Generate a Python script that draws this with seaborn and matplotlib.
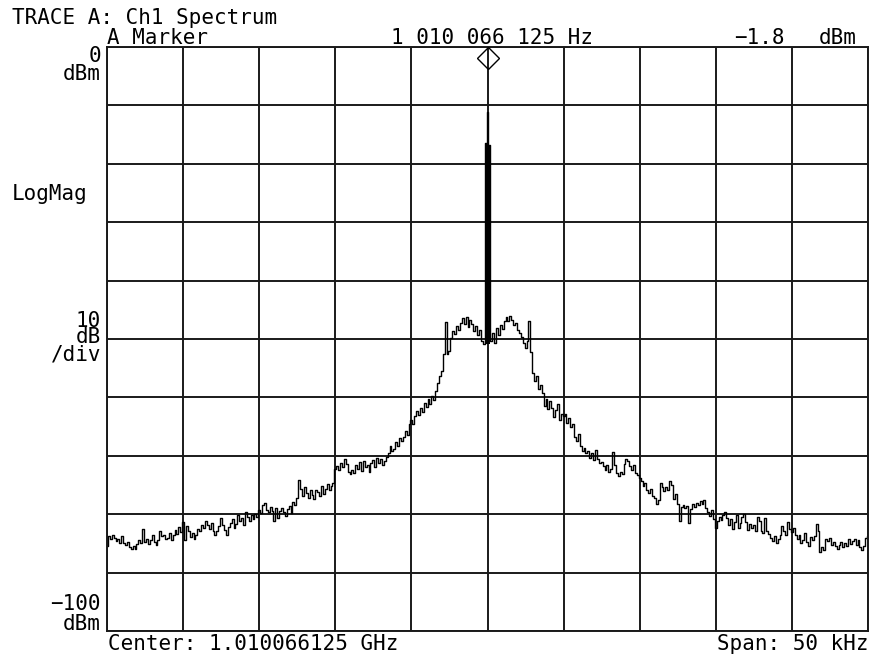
import matplotlib
matplotlib.use("Agg")
import matplotlib.pyplot as plt
import numpy as np
import pandas as pd
import seaborn as sns

# Instrument settings
center_label = "Center: 1.010066125 GHz"
span_label = "Span: 50 kHz"
span_khz = 50
marker_offset_khz = 0.0
marker_dbm = -1.8

# Trace A, 401 sweep points, dBm
trace_dbm = [
    -85.5, -83.8, -84.2, -83.6, -84.0, -84.6, -84.3, -85.0, -83.7, -84.9, -85.2, -84.8, -85.6, -86.0, -85.4, -85.9, -85.1, -84.5, -84.9, -82.6,
    -84.8, -84.2, -85.1, -84.4, -83.6, -84.7, -85.3, -84.5, -82.9, -83.8, -83.5, -84.2, -84.0, -83.2, -84.4, -83.6, -82.7, -83.4, -82.2, -83.0,
    -81.3, -84.4, -82.0, -82.8, -83.9, -83.2, -84.2, -83.6, -82.5, -82.9, -81.8, -82.4, -81.2, -81.9, -82.6, -81.5, -82.8, -83.5, -82.9, -82.1,
    -80.6, -81.9, -82.7, -83.6, -82.2, -81.5, -80.8, -82.4, -81.7, -80.2, -81.1, -80.6, -81.9, -79.6, -80.4, -81.2, -80.1, -80.8, -79.9, -80.5,
    -79.3, -79.8, -78.4, -78.0, -79.2, -79.6, -78.8, -79.5, -81.2, -79.0, -80.6, -79.4, -78.9, -79.7, -80.3, -79.1, -78.6, -79.8, -77.9, -78.4,
    -77.2, -74.1, -75.6, -76.8, -75.3, -76.4, -77.3, -75.9, -76.7, -77.4, -75.8, -76.2, -76.9, -75.1, -76.5, -75.6, -74.8, -75.9, -75.2, -74.6,
    -72.3, -71.8, -72.5, -71.2, -71.9, -70.6, -71.4, -72.7, -73.1, -72.4, -72.9, -71.5, -72.2, -71.0, -72.6, -70.9, -72.0, -71.6, -72.8, -71.3,
    -70.8, -71.9, -70.4, -71.2, -70.6, -71.5, -70.9, -70.2, -69.6, -68.4, -69.2, -68.8, -67.6, -68.3, -66.9, -67.5, -66.8, -65.8, -66.4, -64.5,
    -63.8, -64.6, -63.2, -62.4, -63.0, -61.8, -62.5, -60.9, -61.6, -60.3, -61.2, -59.8, -60.4, -58.9, -57.6, -56.3, -55.4, -52.6, -47.1, -52.5,
    -52.0, -49.8, -48.6, -49.2, -47.8, -48.4, -47.2, -46.4, -47.5, -46.2, -47.9, -46.8, -47.4, -48.6, -47.7, -49.3, -48.5, -50.4, -50.8, -16.5,
    -11.2, -16.8, -50.3, -49.0, -50.6, -48.2, -49.4, -47.6, -48.3, -46.9, -46.2, -47.0, -46.1, -46.8, -47.6, -47.2, -48.4, -48.9, -49.6, -50.7,
    -51.5, -50.4, -47.0, -52.2, -55.8, -57.2, -56.4, -58.6, -57.9, -59.3, -61.4, -60.2, -62.0, -60.6, -61.8, -63.4, -62.2, -61.2, -63.8, -62.9,
    -63.2, -62.8, -64.3, -63.5, -65.1, -64.6, -66.8, -67.5, -66.3, -68.4, -69.2, -68.7, -69.6, -69.1, -70.3, -69.5, -70.8, -69.0, -70.6, -71.3,
    -71.0, -71.8, -72.4, -71.5, -72.8, -72.2, -69.4, -71.6, -72.9, -73.4, -72.7, -73.1, -71.4, -70.6, -70.9, -71.8, -72.5, -71.6, -72.9, -73.3,
    -73.8, -74.4, -75.1, -74.7, -75.9, -76.4, -75.6, -76.8, -77.3, -78.2, -77.6, -74.6, -75.3, -76.1, -75.4, -75.9, -74.3, -75.0, -77.4, -76.6,
    -78.3, -81.2, -78.8, -78.4, -79.0, -78.6, -81.5, -79.1, -78.2, -78.7, -78.0, -78.5, -77.8, -78.3, -77.6, -78.9, -79.6, -80.3, -79.2, -80.8,
    -82.4, -81.2, -80.4, -81.0, -80.2, -79.6, -80.6, -81.8, -80.9, -82.6, -81.4, -80.1, -82.3, -81.5, -80.5, -80.0, -81.4, -82.7, -81.6, -82.4,
    -81.8, -82.9, -80.4, -81.2, -82.8, -83.3, -80.6, -82.9, -83.4, -84.1, -84.6, -83.8, -84.9, -84.3, -83.6, -82.1, -82.8, -83.5, -81.4, -82.6,
    -83.1, -82.4, -83.6, -84.2, -83.5, -85.0, -84.4, -83.2, -84.8, -85.4, -83.9, -84.5, -83.7, -81.6, -82.9, -86.4, -85.6, -86.2, -84.3, -84.6,
    -84.1, -85.2, -84.7, -85.5, -86.0, -85.3, -84.8, -85.6, -84.9, -85.4, -84.2, -85.1, -84.6, -84.3, -85.2, -84.5, -85.7, -86.1, -85.4, -84.0, -83.8,
]

# sweep points spread evenly over the span
offset_khz = np.linspace(-span_khz / 2, span_khz / 2, len(trace_dbm))
step_khz = offset_khz[1] - offset_khz[0]
df = pd.DataFrame({"offset_khz": offset_khz, "dbm": trace_dbm})

sns.set_style("white")
plt.rcParams["font.family"] = ["DejaVu Sans Mono"]

W, H = 872, 656
fig = plt.figure(figsize=(W / 100, H / 100), dpi=100)
ax = fig.add_axes([107 / W, 1 - 631 / H, 761 / W, 584 / H])

sns.lineplot(data=df, x="offset_khz", y="dbm", ax=ax, color="black",
             linewidth=1.0, drawstyle="steps-mid", estimator=None, sort=False)

# the carrier spike shows up as a solid column on the screen
spike = df[df["dbm"] > -40]
floor = df.loc[[spike.index.min() - 1, spike.index.max() + 1], "dbm"].min()
ax.bar(spike["offset_khz"], spike["dbm"] - floor, bottom=floor,
       width=step_khz, color="black", linewidth=0)

# marker diamond at the top
ax.plot(marker_offset_khz, marker_dbm, marker="D", ms=11, mfc="none",
        mec="black", mew=1.0, clip_on=False, zorder=5)

ax.set_xlim(-span_khz / 2, span_khz / 2)
ax.set_ylim(-100, 0)
ax.set_xticks(np.linspace(-span_khz / 2, span_khz / 2, 11))
ax.set_yticks(np.arange(-100, 1, 10))
ax.grid(True, color="#1a1a1a", linewidth=1.4)
ax.set_axisbelow(True)
ax.tick_params(length=0, labelbottom=False, labelleft=False)
ax.set_xlabel("")
ax.set_ylabel("")
for sp in ax.spines.values():
    sp.set_color("#1a1a1a")
    sp.set_linewidth(1.4)


def label(x, y, s, ha="left", ls=1.2):
    # y is the baseline of the last line, in pixels from the top
    fig.text(x / W, 1 - y / H, s, ha=ha, va="baseline", fontsize=15,
             color="black", multialignment=ha if ha != "center" else "center",
             linespacing=ls)


label(12, 23.5, "TRACE A: Ch1 Spectrum")
label(107, 43.5, "A Marker")
label(492, 43.5, "1 010 066 125 Hz", ha="center")
label(785, 43.5, "\u22121.8", ha="right")
label(857, 43.5, "dBm", ha="right")

label(101, 80, "0\ndBm", ha="right", ls=0.87)
label(12, 200, "LogMag")
label(101, 360, "10\ndB\n/div", ha="right", ls=0.79)
label(101, 630, "\u2212100\ndBm", ha="right", ls=1.03)

label(108, 650, center_label)
label(868, 650, span_label, ha="right")

fig.savefig("out.png", dpi=100)
